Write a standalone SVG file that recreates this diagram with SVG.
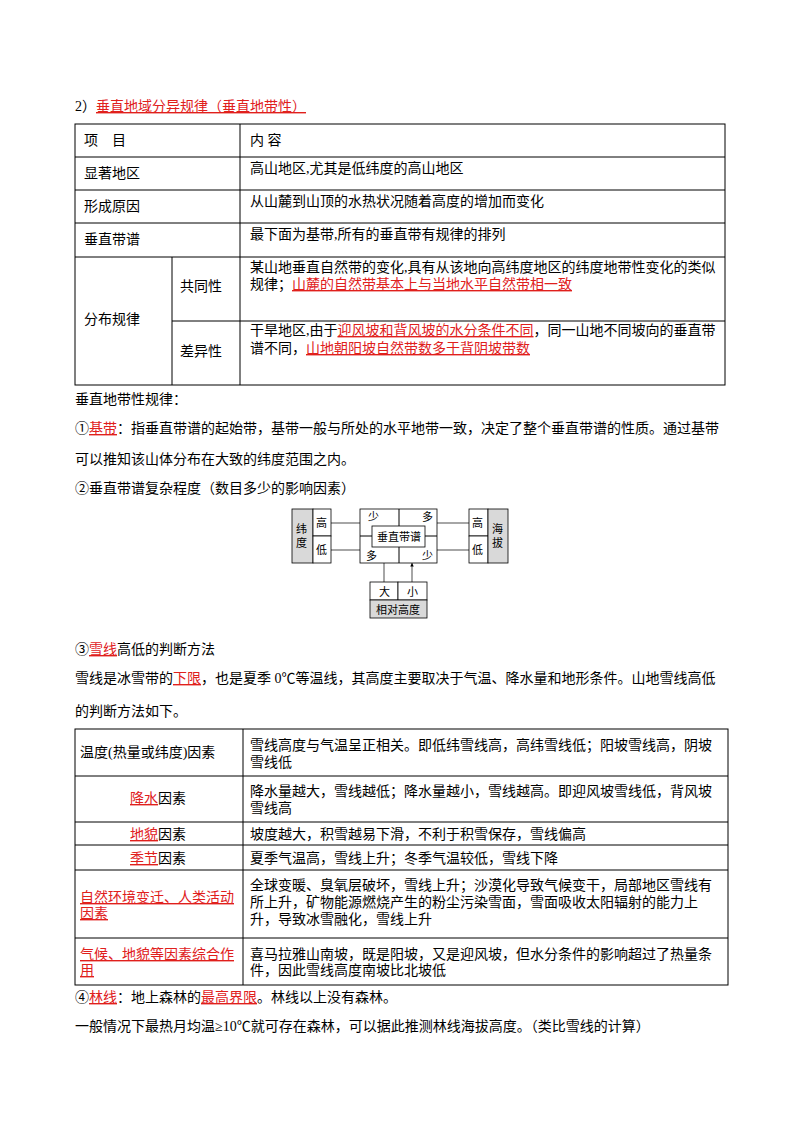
<svg xmlns="http://www.w3.org/2000/svg" width="800" height="1132" viewBox="0 0 800 1132">
<defs>
<style>
text{font-family:"Liberation Serif","Noto Sans CJK SC",serif;font-size:14px;fill:#000}
.r{fill:#e0201c;text-decoration:underline}
.c{fill:none;stroke:#000;stroke-width:1}
.s{font-size:11px}
.g{fill:#d9d9d9;stroke:#000;stroke-width:0.8}
.w{fill:#fff;stroke:#000;stroke-width:0.8}
.a{stroke:#000;stroke-width:0.7;fill:none;marker-end:url(#m)}
</style>
<marker id="m" viewBox="0 0 6 6" refX="6" refY="3" markerWidth="5" markerHeight="5" orient="auto"><path d="M0,0L6,3L0,6z" fill="#000"/></marker>
</defs>
<rect width="800" height="1132" fill="#fff"/>
<text x="75" y="111">2）<tspan class="r">垂直地域分异规律（垂直地带性）</tspan></text>
<g id="table1">
<rect class="c" x="75" y="124" width="650" height="261"/>
<path class="c" d="M75 157H725M75 190H725M75 223H725M75 257H725M172 321H725M240 124V385M172 257V385"/>
<text x="84" y="145">项　目</text><text x="250" y="145">内 容</text>
<text x="84" y="178">显著地区</text><text x="250" y="173">高山地区,尤其是低纬度的高山地区</text>
<text x="84" y="211">形成原因</text><text x="250" y="206">从山麓到山顶的水热状况随着高度的增加而变化</text>
<text x="84" y="244">垂直带谱</text><text x="250" y="239">最下面为基带,所有的垂直带有规律的排列</text>
<text x="84" y="324">分布规律</text>
<text x="180" y="291">共同性</text><text x="180" y="356">差异性</text>
<text x="250" y="272">某山地垂直自然带的变化,具有从该地向高纬度地区的纬度地带性变化的类似</text>
<text x="250" y="289">规律；<tspan class="r">山麓的自然带基本上与当地水平自然带相一致</tspan></text>
<text x="250" y="335">干旱地区,由于<tspan class="r">迎风坡和背风坡的水分条件不同</tspan>，同一山地不同坡向的垂直带</text>
<text x="250" y="353">谱不同，<tspan class="r">山地朝阳坡自然带数多于背阴坡带数</tspan></text>
</g>
<text x="75" y="404">垂直地带性规律：</text>
<text x="75" y="433">①<tspan class="r">基带</tspan>：指垂直带谱的起始带，基带一般与所处的水平地带一致，决定了整个垂直带谱的性质。通过基带</text>
<text x="75" y="464">可以推知该山体分布在大致的纬度范围之内。</text>
<text x="75" y="493">②垂直带谱复杂程度（数目多少的影响因素）</text>
<g id="latitude">
<rect class="g" x="292" y="509" width="21" height="54"/><rect class="w" x="313" y="509" width="18" height="27"/><rect class="w" x="313" y="536" width="18" height="27"/>
<text class="s" x="296" y="533">纬</text><text class="s" x="296" y="547">度</text>
<text class="s" x="316" y="527">高</text><text class="s" x="316" y="554">低</text>
</g>
<g id="spectrum">
<rect class="w" x="360" y="509" width="77" height="54"/>
<path class="c" stroke-width="0.8" d="M399 509V563M360 536H437"/>
<rect class="w" x="372" y="526" width="53" height="21"/>
<text class="s" x="377" y="541">垂直带谱</text>
<text class="s" x="368" y="521">少</text><text class="s" x="422" y="521">多</text>
<text class="s" x="366" y="560">多</text><text class="s" x="422" y="560">少</text>
</g>
<g id="altitude">
<rect class="w" x="469" y="509" width="19" height="27"/><rect class="w" x="469" y="536" width="19" height="27"/><rect class="g" x="488" y="509" width="20" height="54"/>
<text class="s" x="472" y="527">高</text><text class="s" x="472" y="554">低</text>
<text class="s" x="492" y="533">海</text><text class="s" x="492" y="547">拔</text>
</g>
<g id="relheight">
<rect class="w" x="370" y="582" width="28" height="18"/><rect class="w" x="398" y="582" width="29" height="18"/><rect class="g" x="370" y="600" width="57" height="18"/>
<text class="s" x="379" y="596">大</text><text class="s" x="407" y="596">小</text>
<text class="s" x="376" y="614">相对高度</text>
</g>
<g id="connectors">
<path class="a" d="M331 523H360M331 550H360M469 523H437M469 550H437M384 582V563M412 582V563"/>
</g>
<text x="75" y="654">③<tspan class="r">雪线</tspan>高低的判断方法</text>
<text x="75" y="683">雪线是冰雪带的<tspan class="r">下限</tspan>，也是夏季 0℃等温线，其高度主要取决于气温、降水量和地形条件。山地雪线高低</text>
<text x="75" y="716">的判断方法如下。</text>
<g id="table2">
<rect class="c" x="75" y="729" width="653" height="256"/>
<path class="c" d="M75 776H728M75 822H728M75 845H728M75 870H728M75 938H728M243 729V985"/>
<text x="80" y="757">温度(热量或纬度)因素</text>
<text x="250" y="750">雪线高度与气温呈正相关。即低纬雪线高，高纬雪线低；阳坡雪线高，阴坡</text>
<text x="250" y="767">雪线低</text>
<text x="130" y="803"><tspan class="r">降水</tspan>因素</text>
<text x="250" y="796">降水量越大，雪线越低；降水量越小，雪线越高。即迎风坡雪线低，背风坡</text>
<text x="250" y="813">雪线高</text>
<text x="130" y="839"><tspan class="r">地貌</tspan>因素</text><text x="250" y="839">坡度越大，积雪越易下滑，不利于积雪保存，雪线偏高</text>
<text x="130" y="863"><tspan class="r">季节</tspan>因素</text><text x="250" y="863">夏季气温高，雪线上升；冬季气温较低，雪线下降</text>
<text class="r" x="80" y="902">自然环境变迁、人类活动</text><text class="r" x="80" y="918">因素</text>
<text x="250" y="890">全球变暖、臭氧层破坏，雪线上升；沙漠化导致气候变干，局部地区雪线有</text>
<text x="250" y="907">所上升，矿物能源燃烧产生的粉尘污染雪面，雪面吸收太阳辐射的能力上</text>
<text x="250" y="924">升，导致冰雪融化，雪线上升</text>
<text class="r" x="80" y="959">气候、地貌等因素综合作</text><text class="r" x="80" y="975">用</text>
<text x="250" y="959">喜马拉雅山南坡，既是阳坡，又是迎风坡，但水分条件的影响超过了热量条</text>
<text x="250" y="975">件，因此雪线高度南坡比北坡低</text>
</g>
<text x="75" y="1002">④<tspan class="r">林线</tspan>：地上森林的<tspan class="r">最高界限</tspan>。林线以上没有森林。</text>
<text x="75" y="1031">一般情况下最热月均温≥10℃就可存在森林，可以据此推测林线海拔高度。（类比雪线的计算）</text>
</svg>
